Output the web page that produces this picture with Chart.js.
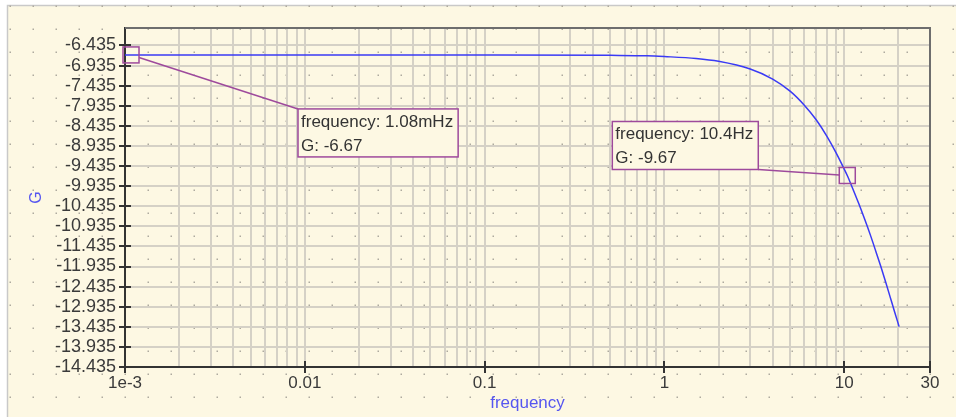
<!DOCTYPE html>
<html>
<head>
<meta charset="utf-8">
<title>G vs frequency</title>
<script src="https://cdn.jsdelivr.net/npm/chart.js@4.4.1/dist/chart.umd.min.js"></script>
<style>
  html, body { margin: 0; padding: 0; background: #ffffff; }
  #wrap { width: 956px; height: 417px; }
</style>
</head>
<body>
<div id="wrap"><canvas id="gainChart" width="956" height="417"></canvas></div>
<script>
  // values
  const freq = [0.001, 0.01, 0.1, 0.5, 0.8, 1, 1.5, 2, 3, 4, 5, 6, 7, 8, 9, 10, 10.4, 11, 12, 13, 14, 15, 16, 17, 18, 19, 20.2];
  const gain = [-6.67, -6.67, -6.67, -6.68, -6.69, -6.71, -6.76, -6.83, -7.02, -7.27, -7.57, -7.92, -8.29, -8.69, -9.10, -9.51, -9.67, -9.93, -10.35, -10.76, -11.16, -11.56, -11.94, -12.32, -12.69, -13.04, -13.43];

  // log grid: one line per 1..9 step of each decade
  const xGridValues = [
    0.001, 0.002, 0.003, 0.004, 0.005, 0.006, 0.007, 0.008, 0.009,
    0.01, 0.02, 0.03, 0.04, 0.05, 0.06, 0.07, 0.08, 0.09,
    0.1, 0.2, 0.3, 0.4, 0.5, 0.6, 0.7, 0.8, 0.9,
    1, 2, 3, 4, 5, 6, 7, 8, 9,
    10, 20, 30
  ];
  const xLabelValues = [0.001, 0.01, 0.1, 1, 10, 30];
  const xLabelText = ['1e-3', '0.01', '0.1', '1', '10', '30'];
  const yTickValues = [-14.435, -13.935, -13.435, -12.935, -12.435, -11.935, -11.435, -10.935, -10.435,
    -9.935, -9.435, -8.935, -8.435, -7.935, -7.435, -6.935, -6.435];

  // cursor read-outs
  const markerFreq = [0.00108, 10.4];
  const markerGain = [-6.67, -9.67];
  const markerText = [['frequency: 1.08mHz', 'G: -6.67'], ['frequency: 10.4Hz', 'G: -9.67']];

  const FONT = '"Liberation Sans", Arial, sans-serif';
  const PAPER = '#fdf8e3';
  const PURPLE = '#9e4a9c';
  const GRID = '#d5d1c6';

  // where each read-out box sits relative to its marker (px)
  const boxPlacement = [
    { dx: 167, dy: 54, corner: 'tl' },
    { dx: -89, dy: -6, corner: 'br' }
  ];

  function labelFor(v) {
    const i = xLabelValues.findIndex(l => Math.abs(l - v) / l < 1e-6);
    return i >= 0 ? xLabelText[i] : '';
  }

  const paperPlugin = {
    id: 'paper',
    beforeDraw(chart) {
      const { ctx, width, height } = chart;
      ctx.save();
      ctx.fillStyle = '#ffffff';
      ctx.fillRect(0, 0, width, height);
      ctx.fillStyle = PAPER;
      ctx.fillRect(7, 5, width - 7, height - 5);
      ctx.strokeStyle = '#c9c9c9';
      ctx.lineWidth = 1.5;
      ctx.beginPath();
      ctx.moveTo(7.5, height);
      ctx.lineTo(7.5, 5.5);
      ctx.lineTo(width, 5.5);
      ctx.stroke();
      // dotted paper
      ctx.fillStyle = '#aeaa9f';
      for (let x = 10; x < width; x += 23) {
        for (let y = 6; y < height; y += 23) {
          ctx.fillRect(x - 0.5, y - 0.5, 1.5, 1.5);
        }
      }
      ctx.restore();
    }
  };

  const framePlugin = {
    id: 'frame',
    afterDraw(chart) {
      const { ctx, chartArea: a } = chart;
      const xs = chart.scales.x;
      const ys = chart.scales.y;
      ctx.save();

      // top / right frame
      ctx.strokeStyle = '#6e6e6e';
      ctx.lineWidth = 2;
      ctx.beginPath();
      ctx.moveTo(a.left, a.top);
      ctx.lineTo(a.right, a.top);
      ctx.lineTo(a.right, a.bottom);
      ctx.stroke();

      // tick marks crossing the axes
      ctx.strokeStyle = '#333333';
      ctx.lineWidth = 2;
      ctx.beginPath();
      yTickValues.forEach(v => {
        const py = Math.round(ys.getPixelForValue(v));
        ctx.moveTo(a.left - 6, py);
        ctx.lineTo(a.left + 6, py);
      });
      xLabelValues.forEach(v => {
        const px = Math.round(xs.getPixelForValue(v));
        ctx.moveTo(px, a.bottom - 6);
        ctx.lineTo(px, a.bottom + 6);
      });
      ctx.stroke();

      // read-out boxes
      ctx.font = '17px ' + FONT;
      markerFreq.forEach((f, i) => {
        const px = xs.getPixelForValue(f);
        const py = ys.getPixelForValue(markerGain[i]);
        const lines = markerText[i];
        const place = boxPlacement[i];
        const w = Math.max(...lines.map(t => ctx.measureText(t).width)) + 8;
        const h = 48;
        let bx, by, cx, cy;
        if (place.corner === 'tl') {
          bx = px + place.dx; by = py + place.dy; cx = bx; cy = by;
        } else {
          bx = px + place.dx - w; by = py + place.dy - h; cx = bx + w; cy = by + h;
        }

        // leader stops at the marker square edge
        const half = 8;
        const ddx = px - cx, ddy = py - cy;
        const t = 1 - half / Math.max(Math.abs(ddx), Math.abs(ddy));
        ctx.strokeStyle = PURPLE;
        ctx.lineWidth = 1.5;
        ctx.beginPath();
        ctx.moveTo(cx, cy);
        ctx.lineTo(cx + ddx * t, cy + ddy * t);
        ctx.stroke();
        ctx.strokeRect(px - half, py - half, half * 2, half * 2);

        ctx.fillStyle = PAPER;
        ctx.fillRect(bx, by, w, h);
        ctx.strokeRect(bx, by, w, h);
        ctx.fillStyle = '#333333';
        ctx.textBaseline = 'alphabetic';
        ctx.fillText(lines[0], bx + 3, by + 18);
        ctx.fillText(lines[1], bx + 3, by + 42);
      });
      ctx.restore();
    }
  };

  function initChart() {
    if (typeof Chart === 'undefined') {
      console.error('Chart.js not loaded');
      return;
    }
    const ctx = document.getElementById('gainChart').getContext('2d');
    new Chart(ctx, {
      type: 'line',
      data: {
        datasets: [{
          data: freq.map((f, i) => ({ x: f, y: gain[i] })),
          borderColor: '#3a3af5',
          borderWidth: 1.5,
          pointRadius: 0,
          fill: false,
          cubicInterpolationMode: 'monotone'
        }]
      },
      options: {
        responsive: false,
        animation: false,
        layout: { padding: { left: 25, top: 28, right: 26, bottom: 0 } },
        plugins: { legend: { display: false }, tooltip: { enabled: false } },
        scales: {
          x: {
            type: 'logarithmic',
            min: 0.001,
            max: 30,
            afterBuildTicks: s => { s.ticks = xGridValues.map(v => ({ value: v })); },
            afterFit: s => { s.height = 50; },
            ticks: {
              autoSkip: false,
              maxRotation: 0,
              padding: 6,
              color: '#3a3a3a',
              font: { family: FONT, size: 17 },
              callback: v => labelFor(v)
            },
            grid: { color: GRID, lineWidth: 2, drawTicks: false },
            border: { color: '#333333', width: 2 },
            title: {
              display: true,
              text: 'frequency',
              color: '#5656f0',
              font: { family: FONT, size: 17 },
              padding: { top: 0, bottom: 3 }
            }
          },
          y: {
            type: 'linear',
            min: -14.435,
            max: -6.0,
            afterBuildTicks: s => { s.ticks = yTickValues.map(v => ({ value: v })); },
            afterFit: s => { s.width = 100; },
            ticks: {
              autoSkip: false,
              padding: 9,
              color: '#3a3a3a',
              font: { family: FONT, size: 18 },
              callback: v => v.toFixed(3)
            },
            grid: { color: GRID, lineWidth: 2, drawTicks: false },
            border: { color: '#333333', width: 2 },
            title: {
              display: true,
              text: 'G',
              color: '#5656f0',
              font: { family: FONT, size: 16 },
              padding: { top: 2, bottom: 0 }
            }
          }
        }
      },
      plugins: [paperPlugin, framePlugin]
    });
  }

  initChart();
</script>
</body>
</html>
